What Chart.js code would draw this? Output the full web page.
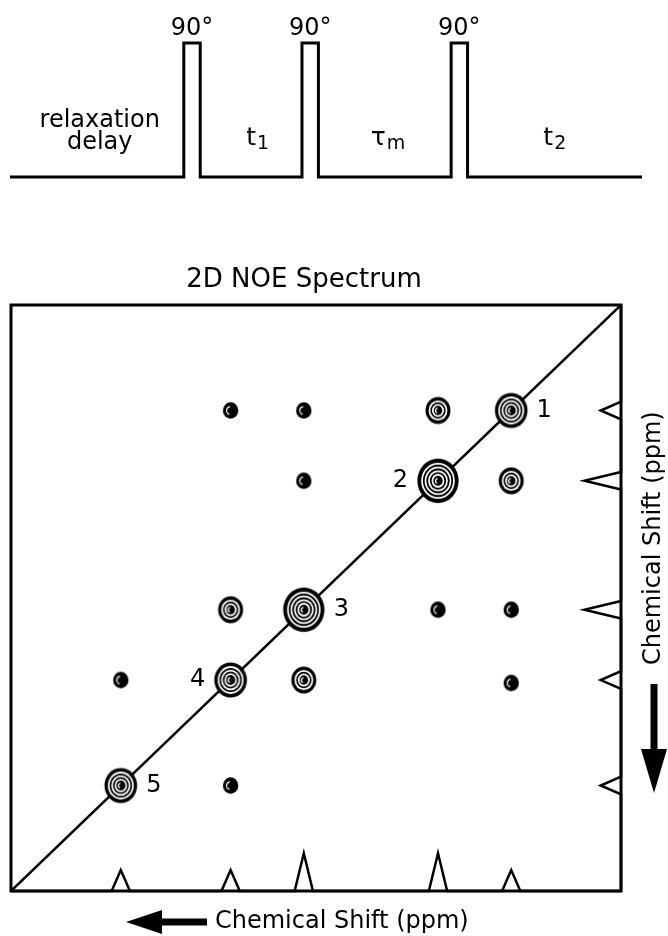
<!DOCTYPE html>
<html>
<head>
<meta charset="utf-8">
<script src="https://cdn.jsdelivr.net/npm/chart.js@4"></script>
<style>
  html, body { margin: 0; padding: 0; background: #fff; }
  #pulseBox { position: absolute; left: 0; top: 0; width: 668px; height: 200px; }
  #noeBox { position: absolute; left: 0; top: 200px; width: 668px; height: 736px; }
</style>
</head>
<body>
<div id="pulseBox"><canvas id="pulseChart"></canvas></div>
<div id="noeBox"><canvas id="noeChart"></canvas></div>
<script>
// pulse sequence, time in arbitrary units (0-100)
const pulseStarts = [27.5, 46.2, 69.8];
const pulseWidth = 2.6;
const pulseLabel = "90°";
const delayLines = ["relaxation", "delay"];
const delayAt = 14.2;
const periodMain = ["t", "τ", "t"];
const periodSub = ["1", "m", "2"];
const periodAt = [39.2, 59.8, 86.2];

// 2D NOE spectrum, chemical shifts in ppm
const shifts = [1.8, 3.0, 5.2, 6.4, 8.2];
const projHeights = [1.0, 1.8, 1.8, 1.0, 1.0];
const diagLevels = [3, 4, 4, 3, 3];
const peakNames = ["1", "2", "3", "4", "5"];
const labelSide = [1, -1, 1, -1, 1];
const crossF2 = [6.4, 5.2, 3.0, 5.2, 1.8, 6.4, 3.0, 1.8, 8.2, 5.2, 1.8, 6.4];
const crossF1 = [1.8, 1.8, 1.8, 3.0, 3.0, 5.2, 5.2, 5.2, 6.4, 6.4, 6.45, 8.2];
const crossLevels = [1, 1, 2, 1, 2, 2, 1, 1, 1, 2, 1, 1];

const FONT = '"DejaVu Sans", sans-serif';

// ---------- pulse sequence ----------
const pulsePoints = [{ x: 0, y: 0 }];
pulseStarts.forEach(function (t) {
  pulsePoints.push({ x: t, y: 0 }, { x: t, y: 1 }, { x: t + pulseWidth, y: 1 }, { x: t + pulseWidth, y: 0 });
});
pulsePoints.push({ x: 100, y: 0 });

const pulseLabels = {
  id: "pulseLabels",
  afterDraw(chart) {
    const ctx = chart.ctx;
    const x = chart.scales.x, y = chart.scales.y;
    const base = y.getPixelForValue(0);
    const top = y.getPixelForValue(1);
    ctx.save();
    ctx.fillStyle = "#000";
    ctx.font = "24px " + FONT;
    ctx.textAlign = "center";
    ctx.textBaseline = "alphabetic";
    pulseStarts.forEach(function (t) {
      ctx.fillText(pulseLabel, x.getPixelForValue(t + pulseWidth / 2), top - 8);
    });
    ctx.textBaseline = "middle";
    ctx.fillText(delayLines[0], x.getPixelForValue(delayAt), base - 56);
    ctx.fillText(delayLines[1], x.getPixelForValue(delayAt), base - 34);
    periodMain.forEach(function (m, i) {
      ctx.font = "25px " + FONT;
      const w1 = ctx.measureText(m).width;
      ctx.font = "19px " + FONT;
      const w2 = ctx.measureText(periodSub[i]).width;
      const x0 = x.getPixelForValue(periodAt[i]) - (w1 + 1 + w2) / 2;
      ctx.textAlign = "left";
      ctx.textBaseline = "alphabetic";
      ctx.font = "25px " + FONT;
      ctx.fillText(m, x0, base - 32);
      ctx.font = "19px " + FONT;
      ctx.fillText(periodSub[i], x0 + w1 + 1, base - 28);
    });
    ctx.restore();
  },
};

new Chart(document.getElementById("pulseChart"), {
  type: "scatter",
  data: {
    datasets: [
      {
        data: pulsePoints,
        showLine: true,
        borderColor: "#000",
        borderWidth: 3,
        borderJoinStyle: "miter",
        pointRadius: 0,
        clip: false,
      },
    ],
  },
  options: {
    responsive: true,
    maintainAspectRatio: false,
    animation: false,
    events: [],
    layout: { padding: { left: 10, right: 26, top: 43, bottom: 23 } },
    scales: {
      x: { type: "linear", min: 0, max: 100, display: false },
      y: { type: "linear", min: 0, max: 1, display: false },
    },
    plugins: { legend: { display: false }, tooltip: { enabled: false } },
  },
  plugins: [pulseLabels],
});

// ---------- 2D NOE spectrum ----------
// contour rings, outside in, alternating black / white
const ringRadii = {
  1: [8],
  2: [13, 9.8, 8, 6.3, 4.5],
  3: [17, 13.5, 11.7, 10, 8.2, 6.5, 4.8],
  4: [21.5, 17.5, 15.7, 13.9, 12.1, 10.3, 8.5, 6.7, 4.9],
};
function ringImage(level) {
  const radii = ringRadii[level];
  const size = Math.ceil(radii[0] * 2.1) + 2;
  const c = document.createElement("canvas");
  c.width = size;
  c.height = size;
  const g = c.getContext("2d");
  g.translate(size / 2, size / 2);
  radii.forEach(function (r, i) {
    g.beginPath();
    g.ellipse(0, 0, r * 0.96, r * 1.03, 0, 0, Math.PI * 2);
    g.fillStyle = i % 2 ? "#fff" : "#000";
    g.fill();
  });
  const rc = radii[radii.length - 1];
  g.beginPath();
  g.arc(0, 0, Math.max(rc * 0.5, 2.5), Math.PI * 0.6, Math.PI * 1.45);
  g.strokeStyle = "#fff";
  g.lineWidth = 1.3;
  g.stroke();
  return c;
}
const ringImages = { 1: ringImage(1), 2: ringImage(2), 3: ringImage(3), 4: ringImage(4) };

const peakX = shifts.concat(crossF2);
const peakY = shifts.concat(crossF1);
const peakLevels = diagLevels.concat(crossLevels);
const peakPoints = peakX.map(function (v, i) { return { x: v, y: peakY[i] }; });

const hw = 0.15;
const order = shifts.map(function (s, i) { return i; });
const bottomProj = [{ x: 10, y: 0 }];
order.slice().sort(function (a, b) { return shifts[b] - shifts[a]; }).forEach(function (i) {
  bottomProj.push({ x: shifts[i] + hw, y: 0 }, { x: shifts[i], y: projHeights[i] }, { x: shifts[i] - hw, y: 0 });
});
bottomProj.push({ x: 0, y: 0 });
const rightProj = [{ x: 0, y: 0 }];
order.slice().sort(function (a, b) { return shifts[a] - shifts[b]; }).forEach(function (i) {
  rightProj.push({ x: 0, y: shifts[i] - hw }, { x: projHeights[i], y: shifts[i] }, { x: 0, y: shifts[i] + hw });
});
rightProj.push({ x: 0, y: 10 });

function arrowLeft(ctx, x0, x1, y) {
  ctx.fillRect(x0 + 34, y - 3.5, x1 - x0 - 34, 7);
  ctx.beginPath();
  ctx.moveTo(x0, y);
  ctx.lineTo(x0 + 36, y - 12);
  ctx.lineTo(x0 + 36, y + 12);
  ctx.closePath();
  ctx.fill();
}
function arrowDown(ctx, x, y0, y1) {
  ctx.fillRect(x - 3.5, y0, 7, y1 - y0 - 40);
  ctx.beginPath();
  ctx.moveTo(x, y1);
  ctx.lineTo(x - 13, y1 - 44);
  ctx.lineTo(x + 13, y1 - 44);
  ctx.closePath();
  ctx.fill();
}

const noeDecor = {
  id: "noeDecor",
  beforeDatasetsDraw(chart) {
    const a = chart.chartArea;
    const ctx = chart.ctx;
    ctx.save();
    ctx.strokeStyle = "#000";
    ctx.lineWidth = 3;
    ctx.strokeRect(a.left, a.top, a.right - a.left, a.bottom - a.top);
    ctx.restore();
  },
  afterDraw(chart) {
    const a = chart.chartArea;
    const ctx = chart.ctx;
    const x = chart.scales.x, y = chart.scales.y;
    ctx.save();
    ctx.fillStyle = "#000";
    ctx.font = "26px " + FONT;
    ctx.textAlign = "center";
    ctx.textBaseline = "alphabetic";
    ctx.fillText("2D NOE Spectrum", (a.left + a.right) / 2 - 12, a.top - 18);

    ctx.font = "24px " + FONT;
    ctx.textBaseline = "middle";
    shifts.forEach(function (s, i) {
      const r = ringRadii[diagLevels[i]][0];
      ctx.fillText(peakNames[i], x.getPixelForValue(s) + labelSide[i] * (r + 16), y.getPixelForValue(s));
    });

    // bottom axis label
    const by = a.bottom + 31;
    arrowLeft(ctx, 126, 207, by);
    ctx.textAlign = "left";
    ctx.fillText("Chemical Shift (ppm)", 215, by);

    // right axis label
    const rx = a.right + 33;
    ctx.save();
    ctx.translate(rx, a.top + 360);
    ctx.rotate(-Math.PI / 2);
    ctx.textAlign = "left";
    ctx.textBaseline = "middle";
    ctx.fillText("Chemical Shift (ppm)", 0, 0);
    ctx.restore();
    arrowDown(ctx, rx, a.top + 379, a.top + 488);
    ctx.restore();
  },
};

new Chart(document.getElementById("noeChart"), {
  type: "scatter",
  data: {
    datasets: [
      {
        data: peakPoints,
        pointStyle: function (c) { return ringImages[peakLevels[c.dataIndex]]; },
        pointRadius: 10,
        clip: false,
      },
      {
        data: [{ x: 0, y: 0 }, { x: 10, y: 10 }],
        showLine: true,
        borderColor: "#000",
        borderWidth: 2.5,
        pointRadius: 0,
      },
      {
        data: bottomProj,
        yAxisID: "ySpec",
        showLine: true,
        borderColor: "#000",
        borderWidth: 2.5,
        borderJoinStyle: "miter",
        pointRadius: 0,
        clip: false,
      },
      {
        data: rightProj,
        xAxisID: "xSpec",
        showLine: true,
        borderColor: "#000",
        borderWidth: 2.5,
        borderJoinStyle: "miter",
        pointRadius: 0,
        clip: false,
      },
    ],
  },
  options: {
    responsive: true,
    maintainAspectRatio: false,
    animation: false,
    events: [],
    layout: { padding: { left: 9, right: 47, top: 105, bottom: 45 } },
    scales: {
      x: { type: "linear", min: 0, max: 10, reverse: true, display: false },
      y: { type: "linear", min: 0, max: 10, reverse: true, display: false },
      xSpec: { type: "linear", axis: "x", min: 0, max: 30, reverse: true, display: false },
      ySpec: { type: "linear", axis: "y", min: 0, max: 28, display: false },
    },
    plugins: { legend: { display: false }, tooltip: { enabled: false } },
  },
  plugins: [noeDecor],
});
</script>
</body>
</html>
